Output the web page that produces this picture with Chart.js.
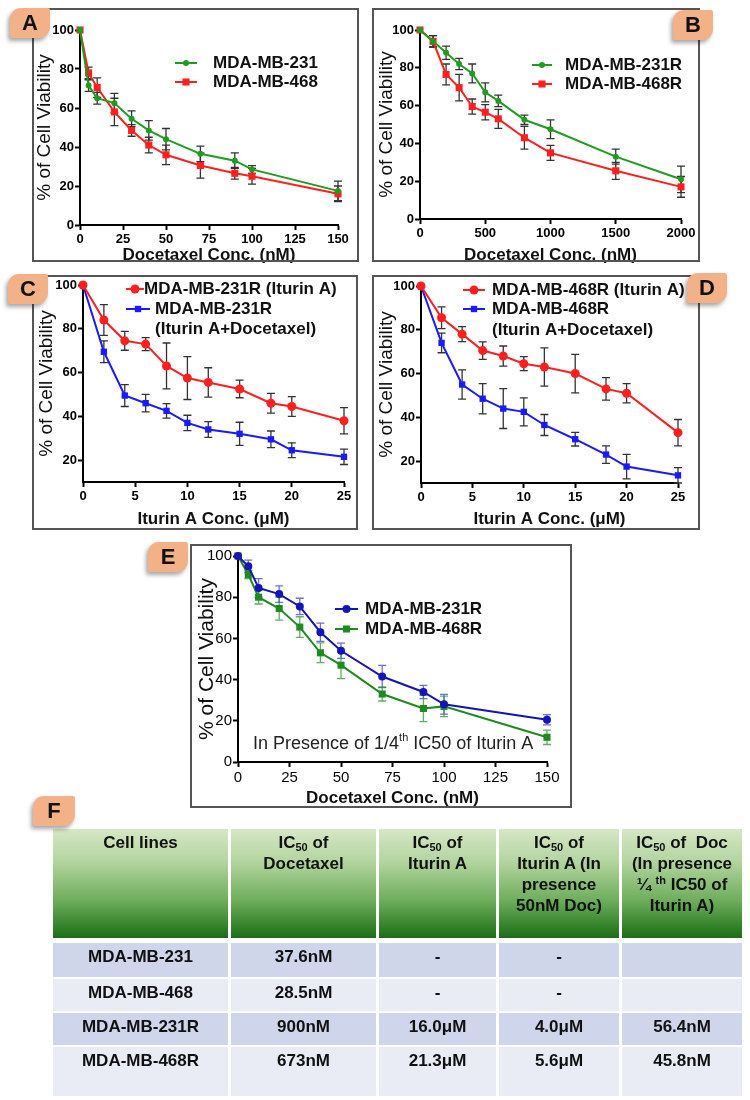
<!DOCTYPE html>
<html>
<head>
<meta charset="utf-8">
<title>Cell viability panels</title>
<script src="https://cdn.jsdelivr.net/npm/chart.js@4.4.1/dist/chart.umd.min.js"></script>
<style>
  body { margin:0; width:750px; height:1100px; background:#fff; position:relative; overflow:hidden;
         font-family:"Liberation Sans", Arial, sans-serif; }
  canvas { position:absolute; }
  .box { position:absolute; border:2px solid #555; box-sizing:border-box; pointer-events:none; }
  .tag { position:absolute; width:40px; height:30px; background:#f2b187; border-radius:11px 2px 11px 2px;
         box-shadow:-2px 3px 4px rgba(0,0,0,.35); font:bold 22px/30px "Liberation Sans", Arial, sans-serif;
         text-align:center; color:#111; z-index:5; }
  #tbl { position:absolute; left:53px; top:829px; display:grid;
         grid-template-columns:175px 145px 117px 120px 120px;
         grid-template-rows:112px 34px 32px 32px 49px; column-gap:3px; row-gap:2px; }
  #tbl div { text-align:center; font-weight:bold; color:#111; box-sizing:border-box; }
  #tbl .h { height:109px; font-size:17px; line-height:21px; padding-top:3px;
            background:linear-gradient(to bottom, #d6e7c6 0%, #b3d49f 30%, #6fae5c 65%, #1b6e17 100%); }
  #tbl .c { font-size:17px; line-height:20px; padding-top:4px; }
  #tbl sub { font-size:11px; vertical-align:-3px; line-height:0; }
  #tbl sup { font-size:11px; vertical-align:6px; line-height:0; }
  #tbl .r1 { background:#cfd5ea; }
  #tbl .r2 { background:#e9ebf5; }
</style>
</head>
<body>
<canvas id="cA"></canvas>
<canvas id="cB"></canvas>
<canvas id="cC"></canvas>
<canvas id="cD"></canvas>
<canvas id="cE"></canvas>

<div class="box" style="left:32px;top:8px;width:327px;height:254px"></div>
<div class="box" style="left:372px;top:8px;width:328px;height:254px"></div>
<div class="box" style="left:32px;top:275px;width:326px;height:255px"></div>
<div class="box" style="left:372px;top:275px;width:328px;height:255px"></div>
<div class="box" style="left:190px;top:544px;width:382px;height:264px"></div>

<div class="tag" style="left:10px;top:8px">A</div>
<div class="tag" style="left:673px;top:10px">B</div>
<div class="tag" style="left:8px;top:274px">C</div>
<div class="tag" style="left:687px;top:273px">D</div>
<div class="tag" style="left:148px;top:542px">E</div>
<div class="tag" style="left:33px;top:796px;width:42px">F</div>

<div id="tbl">
  <div class="h">Cell lines</div>
  <div class="h">IC<sub>50</sub> of<br>Docetaxel</div>
  <div class="h">IC<sub>50</sub> of<br>Iturin A</div>
  <div class="h">IC<sub>50</sub> of<br>Iturin A (In<br>presence<br>50nM Doc)</div>
  <div class="h">IC<sub>50</sub> of&nbsp; Doc<br>(In presence<br>¼ <sup>th</sup> IC50 of<br>Iturin A)</div>

  <div class="c r1">MDA-MB-231</div><div class="c r1">37.6nM</div><div class="c r1">-</div><div class="c r1">-</div><div class="c r1"></div>
  <div class="c r2">MDA-MB-468</div><div class="c r2">28.5nM</div><div class="c r2">-</div><div class="c r2">-</div><div class="c r2"></div>
  <div class="c r1">MDA-MB-231R</div><div class="c r1">900nM</div><div class="c r1">16.0μM</div><div class="c r1">4.0μM</div><div class="c r1">56.4nM</div>
  <div class="c r2">MDA-MB-468R</div><div class="c r2">673nM</div><div class="c r2">21.3μM</div><div class="c r2">5.6μM</div><div class="c r2">45.8nM</div>
</div>

<script>
// ---- data ----
const concA = [0, 5, 10, 20, 30, 40, 50, 70, 90, 100, 150];
const viaA231 = [100, 71.5, 65, 62.5, 54.5, 48.5, 44, 36.5, 33, 28.5, 17.5];
const errA231 = [0, 3, 3, 5, 4, 5, 5.5, 4, 4, 2, 5];
const viaA468 = [100, 78, 70.5, 58, 48.5, 41, 36, 30.5, 26.5, 25, 16];
const errA468 = [0, 3, 5, 7, 3, 4, 5, 6.5, 3, 4, 4];

const concB = [0, 100, 200, 300, 400, 500, 600, 800, 1000, 1500, 2000];
const viaB231R = [100, 94, 88, 82, 77, 67, 62.5, 52.5, 47.5, 33, 21];
const errB231R = [0, 3, 3.5, 3, 5, 5, 3, 2.5, 5, 4, 7];
const viaB468R = [100, 94, 76.5, 69.5, 59.5, 56.5, 53, 43, 35, 25.5, 17];
const errB468R = [0, 3, 5.5, 7, 4, 4, 5, 6, 4, 4.5, 5.5];

const concIturin = [0, 2, 4, 6, 8, 10, 12, 15, 18, 20, 25];
const viaC231Itu = [100, 84, 74.5, 73, 63, 57.5, 55.5, 52.5, 46, 44.5, 38];
const errC231Itu = [0, 7, 4.3, 3, 10.5, 9.8, 6.7, 4, 4.5, 4.5, 6];
const viaC231Combo = [100, 69.5, 49.5, 46, 42.5, 37, 34, 32, 29.5, 24.5, 21.5];
const errC231Combo = [0, 5, 5, 4, 3.3, 3.5, 3.6, 5.3, 3.8, 3.4, 3.5];

const viaD468Itu = [100, 85.5, 78, 70.5, 68, 64.5, 63, 60, 53, 51, 33];
const errD468Itu = [0, 5, 3.4, 4, 4.6, 3.2, 8.7, 8.8, 5.1, 4.4, 6];
const viaD468Combo = [100, 74, 55, 48.5, 44, 42.5, 36.5, 30, 23, 17.5, 13.5];
const errD468Combo = [0, 4.5, 6.7, 6.9, 9.1, 6.4, 4.8, 3.1, 4, 5.6, 3.5];

const concE = [0, 5, 10, 20, 30, 40, 50, 70, 90, 100, 150];
const viaE231R = [100, 95, 84.5, 81.5, 75.5, 63, 54, 41.5, 34, 28, 20.5];
const errE231R = [0, 3, 4.5, 4, 4, 4.4, 3.7, 5.4, 3.2, 4.8, 2.5];
const viaE468R = [100, 91, 80, 74.5, 65.5, 53, 47, 33, 26, 27, 12];
const errE468R = [0, 2, 3.3, 5.6, 5, 4.8, 6.5, 3.4, 6.4, 5, 3.5];

const ticksDoc150 = [0, 25, 50, 75, 100, 125, 150];
const ticksDoc2000 = [0, 500, 1000, 1500, 2000];
const ticksIturin = [0, 5, 10, 15, 20, 25];
const ticksVia = [0, 20, 40, 60, 80, 100];
const ticksViaCD = [20, 40, 60, 80, 100];

Chart.defaults.font.family = '"Liberation Sans", Arial, sans-serif';
Chart.defaults.color = '#000';

// error bars drawn from the same values through the scales
const errorBars = {
  id: 'errorBars',
  beforeDatasetsDraw(chart) {
    const ctx = chart.ctx, x = chart.scales.x, y = chart.scales.y;
    chart.data.datasets.forEach(ds => {
      if (!ds.errors) return;
      ctx.save();
      ctx.strokeStyle = ds.errColor;
      ctx.lineWidth = 1.3;
      ds.data.forEach((pt, j) => {
        const e = ds.errors[j];
        if (!e) return;
        const px = x.getPixelForValue(pt.x);
        const t = y.getPixelForValue(pt.y + e), b = y.getPixelForValue(pt.y - e);
        ctx.beginPath();
        ctx.moveTo(px, t); ctx.lineTo(px, b);
        ctx.moveTo(px - 4, t); ctx.lineTo(px + 4, t);
        ctx.moveTo(px - 4, b); ctx.lineTo(px + 4, b);
        ctx.stroke();
      });
      ctx.restore();
    });
  }
};

function mark(ctx, style, r, x, y) {
  ctx.beginPath();
  if (style === 'rect') {
    const s = r * Math.SQRT1_2;
    ctx.rect(x - s, y - s, 2 * s, 2 * s);
  } else {
    ctx.arc(x, y, r, 0, Math.PI * 2);
  }
  ctx.fill();
}

const inlineLegend = {
  id: 'inlineLegend',
  afterDraw(chart, args, o) {
    if (!o || !o.rows) return;
    const ctx = chart.ctx;
    ctx.save();
    ctx.font = o.font;
    ctx.textBaseline = 'middle';
    chart.data.datasets.forEach((ds, i) => {
      const r = o.rows[i];
      ctx.strokeStyle = ds.borderColor;
      ctx.fillStyle = ds.borderColor;
      ctx.lineWidth = 2;
      ctx.beginPath(); ctx.moveTo(r.x0, r.y); ctx.lineTo(r.x1, r.y); ctx.stroke();
      mark(ctx, ds.pointStyle, ds.pointRadius, (r.x0 + r.x1) / 2, r.y);
      ctx.fillStyle = '#111';
      ds.legendLines.forEach((t, k) => ctx.fillText(t, r.tx, r.y + k * o.gap));
    });
    ctx.restore();
  }
};

const note = {
  id: 'note',
  afterDraw(chart, args, o) {
    if (!o || !o.parts) return;
    const ctx = chart.ctx;
    ctx.save();
    ctx.fillStyle = '#222';
    ctx.textBaseline = 'middle';
    let x = o.x;
    o.parts.forEach(p => {
      ctx.font = p.size + 'px "Liberation Sans", Arial, sans-serif';
      ctx.fillText(p.t, x, o.y + (p.dy || 0));
      x += ctx.measureText(p.t).width;
    });
    ctx.restore();
  }
};

function series(lines, xs, ys, errs, color, style, radius, errColor) {
  return {
    label: lines.join(' '), legendLines: lines,
    data: xs.map((v, i) => ({ x: v, y: ys[i] })),
    errors: errs, errColor: errColor || '#333',
    borderColor: color, backgroundColor: color,
    pointBackgroundColor: color, pointBorderColor: color,
    pointStyle: style, pointRadius: radius, pointBorderWidth: 0,
    borderWidth: 2, tension: 0, clip: false
  };
}

function panel(id, p) {
  const cv = document.getElementById(id);
  const [bx, by, bw, bh] = p.box;
  const H = bh + 24;
  cv.width = bw; cv.height = H;
  cv.style.left = bx + 'px'; cv.style.top = by + 'px';
  cv.style.width = bw + 'px'; cv.style.height = H + 'px';
  const left = p.area[0] - bx, top = p.area[1] - by, right = p.area[2] - bx, bottom = p.area[3] - by;
  const xLH = p.xTitleSize * 1.2, yLH = p.yTitleSize * 1.2;
  const axisGrid = { drawOnChartArea: false, drawTicks: true, tickLength: 5, tickColor: '#000', tickWidth: 2 };
  const axisBorder = { display: true, color: '#000', width: 2 };
  return new Chart(cv, {
    type: 'line',
    data: { datasets: p.datasets },
    options: {
      responsive: false, animation: false, devicePixelRatio: 1,
      layout: { padding: { left: 0, top: top, right: bw - right, bottom: 0 } },
      plugins: {
        legend: { display: false }, tooltip: { enabled: false },
        inlineLegend: p.legend, note: p.note || {}
      },
      scales: {
        x: {
          type: 'linear', min: p.xTicks[0], max: p.xTicks[p.xTicks.length - 1],
          afterBuildTicks: s => { s.ticks = p.xTicks.map(v => ({ value: v })); },
          afterFit: s => { s.height = H - bottom; },
          grid: axisGrid, border: axisBorder,
          ticks: { autoSkip: false, maxRotation: 0, padding: 2, font: p.tickFont, color: '#000',
                   callback: v => String(v) },
          title: { display: true, text: p.xTitle, color: '#111',
                   font: { size: p.xTitleSize, weight: 'bold', lineHeight: 1.2 },
                   padding: { top: 0, bottom: H - (p.xTitleY - by) - xLH / 2 } }
        },
        y: {
          type: 'linear', min: p.yMin, max: 100,
          afterBuildTicks: s => { s.ticks = p.yTicks.map(v => ({ value: v })); },
          afterFit: s => { s.width = left; },
          grid: axisGrid, border: axisBorder,
          ticks: { autoSkip: false, padding: 1, font: p.tickFont, color: '#000',
                   callback: v => String(v) },
          title: { display: true, text: '% of Cell Viability', color: '#111',
                   font: { size: p.yTitleSize, weight: 'normal', lineHeight: 1.2 },
                   padding: { top: (p.yTitleX - bx) - yLH / 2, bottom: 0 } }
        }
      }
    },
    plugins: [errorBars, inlineLegend, note]
  });
}

const GREEN = '#1f9c1f', RED = '#ff1f1f', BLUE = '#1a1aff';
const boldTicks = { size: 13, weight: 'bold' };
const legendFont = 'bold 17px "Liberation Sans", Arial, sans-serif';

panel('cA', {
  box: [32, 8, 327, 254], area: [80, 30, 338, 225],
  xTicks: ticksDoc150, yTicks: ticksVia, yMin: 0, tickFont: boldTicks,
  xTitle: 'Docetaxel Conc. (nM)', xTitleSize: 17, xTitleY: 255,
  yTitleSize: 19, yTitleX: 45,
  datasets: [
    series(['MDA-MB-231'], concA, viaA231, errA231, GREEN, 'circle', 3),
    series(['MDA-MB-468'], concA, viaA468, errA468, RED, 'rect', 5)
  ],
  legend: { font: legendFont, gap: 20,
            rows: [{ x0: 143, x1: 165, y: 55, tx: 181 }, { x0: 143, x1: 165, y: 74, tx: 181 }] }
});

panel('cB', {
  box: [372, 8, 328, 254], area: [420, 30, 681, 219],
  xTicks: ticksDoc2000, yTicks: ticksVia, yMin: 0, tickFont: boldTicks,
  xTitle: 'Docetaxel Conc. (nM)', xTitleSize: 17, xTitleY: 255,
  yTitleSize: 19, yTitleX: 387,
  datasets: [
    series(['MDA-MB-231R'], concB, viaB231R, errB231R, GREEN, 'circle', 3),
    series(['MDA-MB-468R'], concB, viaB468R, errB468R, RED, 'rect', 5)
  ],
  legend: { font: legendFont, gap: 20,
            rows: [{ x0: 160, x1: 180, y: 57, tx: 193 }, { x0: 160, x1: 180, y: 76, tx: 193 }] }
});

panel('cC', {
  box: [32, 275, 326, 255], area: [83, 285, 344, 482],
  xTicks: ticksIturin, yTicks: ticksViaCD, yMin: 10, tickFont: boldTicks,
  xTitle: 'Iturin A Conc. (μM)', xTitleSize: 17, xTitleY: 519,
  yTitleSize: 19, yTitleX: 47,
  datasets: [
    series(['MDA-MB-231R (Iturin A)'], concIturin, viaC231Itu, errC231Itu, RED, 'circle', 4.5),
    series(['MDA-MB-231R', '(Iturin A+Docetaxel)'], concIturin, viaC231Combo, errC231Combo, BLUE, 'rect', 4.5)
  ],
  legend: { font: legendFont, gap: 20,
            rows: [{ x0: 94, x1: 112, y: 14, tx: 112 }, { x0: 94, x1: 118, y: 34, tx: 123 }] }
});

panel('cD', {
  box: [372, 275, 328, 255], area: [421, 286, 678, 483],
  xTicks: ticksIturin, yTicks: ticksViaCD, yMin: 10, tickFont: boldTicks,
  xTitle: 'Iturin A Conc. (μM)', xTitleSize: 17, xTitleY: 519,
  yTitleSize: 19, yTitleX: 387,
  datasets: [
    series(['MDA-MB-468R (Iturin A)'], concIturin, viaD468Itu, errD468Itu, RED, 'circle', 4.5),
    series(['MDA-MB-468R', '(Iturin A+Docetaxel)'], concIturin, viaD468Combo, errD468Combo, BLUE, 'rect', 4.5)
  ],
  legend: { font: legendFont, gap: 21,
            rows: [{ x0: 91, x1: 113, y: 15, tx: 120 }, { x0: 91, x1: 113, y: 34, tx: 120 }] }
});

panel('cE', {
  box: [190, 544, 382, 264], area: [238, 556, 547, 762],
  xTicks: ticksDoc150, yTicks: ticksVia, yMin: 0, tickFont: { size: 15, weight: 'normal' },
  xTitle: 'Docetaxel Conc. (nM)', xTitleSize: 17, xTitleY: 798,
  yTitleSize: 21, yTitleX: 207,
  datasets: [
    series(['MDA-MB-231R'], concE, viaE231R, errE231R, '#1414b8', 'circle', 4, 'rgba(60,60,220,0.75)'),
    series(['MDA-MB-468R'], concE, viaE468R, errE468R, '#1f8a1f', 'rect', 5, 'rgba(40,150,40,0.75)')
  ],
  legend: { font: legendFont, gap: 20,
            rows: [{ x0: 145, x1: 168, y: 65, tx: 175 }, { x0: 145, x1: 168, y: 85, tx: 175 }] },
  note: { x: 63, y: 200, parts: [
    { t: 'In Presence of 1/4', size: 18 },
    { t: 'th', size: 11, dy: -6 },
    { t: ' IC50 of Iturin A', size: 18 }
  ] }
});
</script>
</body>
</html>
